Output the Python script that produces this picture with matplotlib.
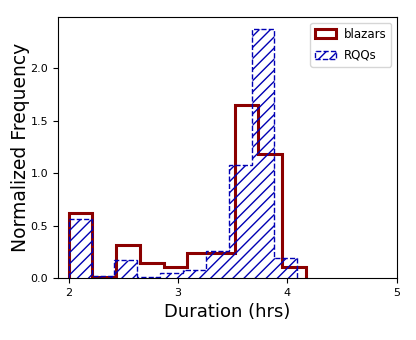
import numpy as np
import matplotlib.pyplot as plt

# bin edges and normalized heights
blazar_edges = [2.0, 2.217, 2.433, 2.65, 2.867, 3.083, 3.3, 3.517, 3.733, 3.95, 4.167]
blazar_heights = [0.62, 0.01, 0.32, 0.145, 0.11, 0.235, 0.235, 1.65, 1.18, 0.11]

rqq_edges = [2.0, 2.209, 2.418, 2.627, 2.836, 3.045, 3.254, 3.463, 3.672, 3.881, 4.09]
rqq_heights = [0.56, 0.016, 0.175, 0.01, 0.05, 0.08, 0.255, 1.08, 2.37, 0.195]

blazar_centers = 0.5 * (np.array(blazar_edges[:-1]) + np.array(blazar_edges[1:]))
rqq_centers = 0.5 * (np.array(rqq_edges[:-1]) + np.array(rqq_edges[1:]))

plt.rcParams['hatch.linewidth'] = 1.0

fig, ax = plt.subplots(figsize=(4.16, 3.4), dpi=100)
fig.subplots_adjust(left=0.139, right=0.954, top=0.95, bottom=0.182)

ax.hist(blazar_centers, bins=blazar_edges, weights=blazar_heights,
        histtype='step', color='darkred', lw=2.2, label='blazars')
ax.hist(rqq_centers, bins=rqq_edges, weights=rqq_heights,
        histtype='step', fill=False, edgecolor='#0000b4', ls='--',
        lw=1.0, hatch='///', label='RQQs')

ax.set_xlim(1.9, 5)
ax.set_xticks([2, 3, 4, 5])
ax.tick_params(labelsize=8)
ax.set_xlabel('Duration (hrs)', fontsize=13)
ax.set_ylabel('Normalized Frequency', fontsize=13.5, labelpad=0)
ax.legend(loc='upper right', fontsize=8.5, labelspacing=0.7,
          handlelength=1.8, handletextpad=0.6)

plt.savefig('out.png')
